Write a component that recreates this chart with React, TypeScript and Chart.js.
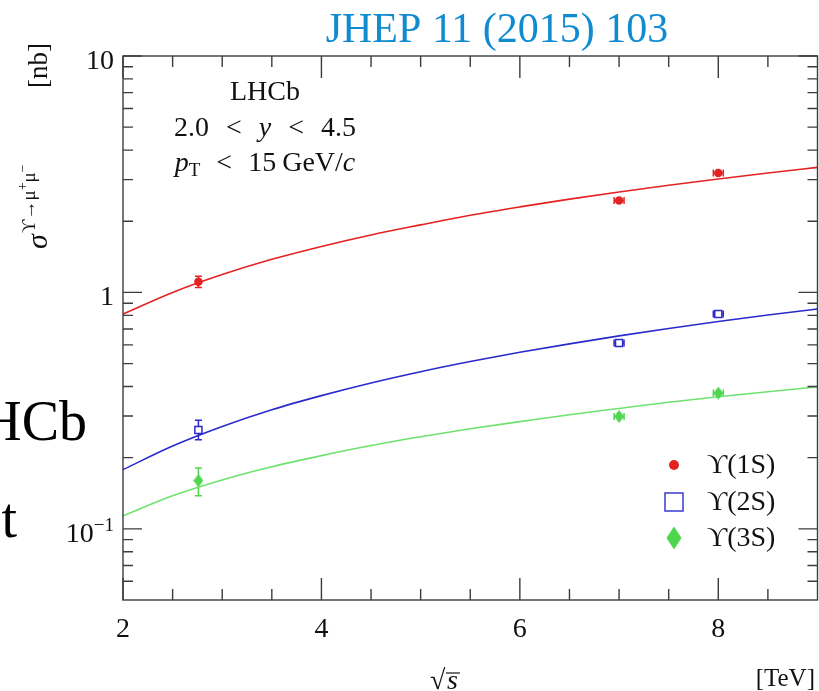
import React, { useEffect, useRef } from "react";
import { Chart, registerables } from "chart.js";

Chart.register(...registerables);

// ---------- data ----------
const energies = [2.76, 7, 8];
const energyErr = [0, 0.05, 0.05];

const ups1S = [1.11, 2.45, 3.2];
const ups1SErrUp = [0.06, 0.03, 0.04];
const ups1SErrDown = [0.06, 0.03, 0.04];

const ups2S = [0.262, 0.611, 0.81];
const ups2SErrUp = [0.026, 0.01, 0.012];
const ups2SErrDown = [0.024, 0.01, 0.012];

const ups3S = [0.16, 0.299, 0.375];
const ups3SErrUp = [0.021, 0.006, 0.008];
const ups3SErrDown = [0.022, 0.006, 0.008];

const curveX = [2, 2.5, 3, 3.5, 4, 4.5, 5, 5.5, 6, 6.5, 7, 7.5, 8, 8.5, 9];
const curve1S = [0.81, 1.0, 1.19, 1.38, 1.565, 1.75, 1.93, 2.12, 2.3, 2.48, 2.66, 2.84, 3.02, 3.2, 3.38];
const curve2S = [0.178, 0.224, 0.271, 0.319, 0.366, 0.414, 0.462, 0.51, 0.558, 0.606, 0.655, 0.704, 0.753, 0.802, 0.851];
const curve3S = [0.1135, 0.138, 0.161, 0.183, 0.204, 0.225, 0.245, 0.265, 0.284, 0.304, 0.323, 0.343, 0.362, 0.38, 0.399];

const xMajorTicks = [2, 4, 6, 8];
const xTickLabels = ["2", "4", "6", "8"];
const xMinorTicks = [2.5, 3, 3.5, 4.5, 5, 5.5, 6.5, 7, 7.5, 8.5];
const yMajorTicks = [0.1, 1, 10];
const yMinorTicks = [
  0.06, 0.07, 0.08, 0.09, 0.2, 0.3, 0.4, 0.5, 0.6, 0.7, 0.8, 0.9, 2, 3, 4, 5, 6, 7, 8, 9,
];
const legendLabels = ["\u03D2(1S)", "\u03D2(2S)", "\u03D2(3S)"];
const titleText = "JHEP 11 (2015) 103";

const RED = "#e42222";
const BLUE = "#2a2acc";
const GREEN = "#4fd64f";
const GREEN_LINE = "#6ee26e";
const AXIS = "#3c3c3c";
const SERIF = '"Liberation Serif", "DejaVu Serif", serif';

const f = (size: number, italic = false) => `${italic ? "italic " : ""}${size}px ${SERIF}`;

type Run = { t: string; f: string; dy?: number; gap?: number };

function runsWidth(ctx: CanvasRenderingContext2D, runs: Run[]) {
  let w = 0;
  for (const r of runs) {
    ctx.font = r.f;
    w += ctx.measureText(r.t).width + (r.gap || 0);
  }
  return w;
}

function drawRuns(
  ctx: CanvasRenderingContext2D,
  x: number,
  y: number,
  runs: Run[],
  align: "left" | "center" | "right"
) {
  const w = runsWidth(ctx, runs);
  let cx = align === "left" ? x : align === "center" ? x - w / 2 : x - w;
  ctx.textAlign = "left";
  ctx.textBaseline = "alphabetic";
  for (const r of runs) {
    cx += r.gap || 0;
    ctx.font = r.f;
    ctx.fillText(r.t, cx, y + (r.dy || 0));
    cx += ctx.measureText(r.t).width;
  }
  return w;
}

function makeDiamond(w: number, h: number, color: string) {
  const c = document.createElement("canvas");
  c.width = w;
  c.height = h;
  const g = c.getContext("2d")!;
  g.fillStyle = color;
  g.beginPath();
  g.moveTo(w / 2, 0);
  g.lineTo(w, h / 2);
  g.lineTo(w / 2, h);
  g.lineTo(0, h / 2);
  g.closePath();
  g.fill();
  return c;
}

function drawErrors(
  ctx: CanvasRenderingContext2D,
  chart: any,
  ys: number[],
  up: number[],
  down: number[],
  color: string
) {
  const xs = chart.scales.x;
  const yS = chart.scales.y;
  ctx.save();
  ctx.strokeStyle = color;
  ctx.lineWidth = 1.5;
  for (let i = 0; i < energies.length; i++) {
    const px = xs.getPixelForValue(energies[i]);
    const py = yS.getPixelForValue(ys[i]);
    const pu = yS.getPixelForValue(ys[i] + up[i]);
    const pd = yS.getPixelForValue(ys[i] - down[i]);
    ctx.beginPath();
    ctx.moveTo(px, pu);
    ctx.lineTo(px, pd);
    if (energyErr[i] === 0) {
      ctx.moveTo(px - 3.5, pu);
      ctx.lineTo(px + 3.5, pu);
      ctx.moveTo(px - 3.5, pd);
      ctx.lineTo(px + 3.5, pd);
    } else {
      const pl = xs.getPixelForValue(energies[i] - energyErr[i]);
      const pr = xs.getPixelForValue(energies[i] + energyErr[i]);
      ctx.moveTo(pl, py);
      ctx.lineTo(pr, py);
      ctx.moveTo(pl, py - 3.5);
      ctx.lineTo(pl, py + 3.5);
      ctx.moveTo(pr, py - 3.5);
      ctx.lineTo(pr, py + 3.5);
    }
    ctx.stroke();
  }
  ctx.restore();
}

const decor = {
  id: "decor",
  beforeDatasetsDraw(chart: any) {
    const ctx = chart.ctx as CanvasRenderingContext2D;
    drawErrors(ctx, chart, ups1S, ups1SErrUp, ups1SErrDown, RED);
    drawErrors(ctx, chart, ups2S, ups2SErrUp, ups2SErrDown, BLUE);
    drawErrors(ctx, chart, ups3S, ups3SErrUp, ups3SErrDown, GREEN);
  },
  afterDraw(chart: any) {
    const ctx = chart.ctx as CanvasRenderingContext2D;
    const { left, right, top, bottom } = chart.chartArea;
    const xs = chart.scales.x;
    const yS = chart.scales.y;
    ctx.save();

    // frame
    ctx.strokeStyle = AXIS;
    ctx.lineWidth = 1.4;
    ctx.strokeRect(left, top, right - left, bottom - top);

    // ticks
    ctx.beginPath();
    const tick = (x1: number, y1: number, x2: number, y2: number) => {
      ctx.moveTo(x1, y1);
      ctx.lineTo(x2, y2);
    };
    for (const v of xMajorTicks) {
      const p = xs.getPixelForValue(v);
      tick(p, bottom, p, bottom - 22);
      tick(p, top, p, top + 22);
    }
    for (const v of xMinorTicks) {
      const p = xs.getPixelForValue(v);
      tick(p, bottom, p, bottom - 11);
      tick(p, top, p, top + 11);
    }
    for (const v of yMajorTicks) {
      const p = yS.getPixelForValue(v);
      tick(left, p, left + 19, p);
      tick(right, p, right - 19, p);
    }
    for (const v of yMinorTicks) {
      const p = yS.getPixelForValue(v);
      tick(left, p, left + 10, p);
      tick(right, p, right - 10, p);
    }
    ctx.stroke();

    // tick labels
    ctx.fillStyle = "#111";
    ctx.textAlign = "center";
    ctx.textBaseline = "alphabetic";
    ctx.font = f(28);
    xMajorTicks.forEach((v, i) => {
      ctx.fillText(xTickLabels[i], xs.getPixelForValue(v), 637);
    });
    const yl = (v: number, runs: Run[]) => {
      drawRuns(ctx, 114, yS.getPixelForValue(v) + 13, runs, "right");
    };
    yl(10, [{ t: "10", f: f(28) }]);
    yl(1, [{ t: "1", f: f(28) }]);
    yl(0.1, [
      { t: "10", f: f(28) },
      { t: "\u22121", f: f(19), dy: -11 },
    ]);

    // axis titles
    drawRuns(ctx, 815, 686, [{ t: "[TeV]", f: f(25) }], "right");
    ctx.font = f(28);
    ctx.textAlign = "left";
    ctx.fillText("\u221A", 430, 689);
    ctx.font = f(28, true);
    ctx.fillText("s", 447, 689);
    ctx.beginPath();
    ctx.lineWidth = 1.2;
    ctx.strokeStyle = "#111";
    ctx.moveTo(446, 673);
    ctx.lineTo(460, 673);
    ctx.stroke();

    ctx.save();
    ctx.translate(47, 0);
    ctx.rotate(-Math.PI / 2);
    drawRuns(
      ctx,
      -249,
      0,
      [
        { t: "\u03C3", f: f(30, true) },
        { t: "\u03D2\u2192\u03BC", f: f(19), dy: -12, gap: 1 },
        { t: "+", f: f(14), dy: -20 },
        { t: "\u03BC", f: f(19), dy: -12 },
        { t: "\u2212", f: f(14), dy: -20 },
      ],
      "left"
    );
    drawRuns(ctx, -88, 0, [{ t: "[nb]", f: f(27) }], "left");
    ctx.restore();

    // annotation
    const cx = 265;
    drawRuns(ctx, cx, 100, [{ t: "LHCb", f: f(28) }], "center");
    drawRuns(
      ctx,
      cx,
      136,
      [
        { t: "2.0", f: f(28) },
        { t: "<", f: f(28), gap: 17 },
        { t: "y", f: f(28, true), gap: 17 },
        { t: "<", f: f(28), gap: 17 },
        { t: "4.5", f: f(28), gap: 17 },
      ],
      "center"
    );
    drawRuns(
      ctx,
      cx,
      171,
      [
        { t: "p", f: f(28, true) },
        { t: "T", f: f(19), dy: 5 },
        { t: "<", f: f(28), gap: 16 },
        { t: "15", f: f(28), gap: 16 },
        { t: "GeV/", f: f(28), gap: 6 },
        { t: "c", f: f(28, true) },
      ],
      "center"
    );

    // title
    ctx.fillStyle = "#118bd0";
    ctx.font = f(42);
    ctx.textAlign = "center";
    ctx.fillText(titleText, 497, 42);

    // background slide fragments
    ctx.fillStyle = "#000";
    ctx.font = f(56);
    ctx.textAlign = "right";
    ctx.fillText("LHCb", 87, 440);
    ctx.fillText("t", 17, 537);

    // legend
    ctx.fillStyle = RED;
    ctx.beginPath();
    ctx.arc(674, 465, 5, 0, Math.PI * 2);
    ctx.fill();
    ctx.strokeStyle = "#4646d6";
    ctx.lineWidth = 1.6;
    ctx.strokeRect(665, 493, 18, 18);
    ctx.fillStyle = GREEN;
    ctx.beginPath();
    ctx.moveTo(674, 526.5);
    ctx.lineTo(681.5, 538);
    ctx.lineTo(674, 549.5);
    ctx.lineTo(666.5, 538);
    ctx.closePath();
    ctx.fill();
    ctx.fillStyle = "#111";
    const ly = [473, 510, 546];
    legendLabels.forEach((t, i) => {
      drawRuns(ctx, 707, ly[i], [{ t, f: f(28) }], "left");
    });

    ctx.restore();
  },
};

export default function App() {
  const ref = useRef<HTMLCanvasElement | null>(null);
  useEffect(() => {
    if (!ref.current) return;
    const diamond = makeDiamond(10, 13, GREEN);
    const line = (ys: number[], color: string) => ({
      type: "line" as const,
      data: curveX.map((x, i) => ({ x, y: ys[i] })),
      borderColor: color,
      borderWidth: 1.6,
      pointRadius: 0,
      fill: false,
      cubicInterpolationMode: "monotone" as const,
    });
    const pts = (ys: number[], style: any, color: string, fillc: string, radius: number) => ({
      type: "scatter" as const,
      data: energies.map((x, i) => ({ x, y: ys[i] })),
      pointStyle: style,
      pointRadius: radius,
      borderColor: color,
      backgroundColor: fillc,
      pointBorderWidth: 1.5,
      showLine: false,
    });
    const chart = new Chart(ref.current, {
      type: "line",
      data: {
        datasets: [
          pts(ups1S, "circle", RED, RED, 3.5),
          pts(ups2S, "rect", BLUE, "#ffffff", 5),
          pts(ups3S, diamond, GREEN, GREEN, 6),
          line(curve1S, RED),
          line(curve2S, BLUE),
          line(curve3S, GREEN_LINE),
        ] as any,
      },
      options: {
        responsive: false,
        animation: false,
        events: [],
        layout: { autoPadding: false, padding: { left: 123, top: 56, right: 1.5, bottom: 91 } },
        plugins: { legend: { display: false }, tooltip: { enabled: false }, title: { display: false } },
        scales: {
          x: { type: "linear", min: 2, max: 9, display: false },
          y: { type: "logarithmic", min: 0.05, max: 10, display: false },
        },
      },
      plugins: [decor],
    });
    return () => chart.destroy();
  }, []);
  return (
    <div style={{ position: "fixed", left: 0, top: 0, width: 819, height: 691, background: "#fff" }}>
      <canvas ref={ref} width={819} height={691} style={{ width: 819, height: 691, display: "block" }} />
    </div>
  );
}
